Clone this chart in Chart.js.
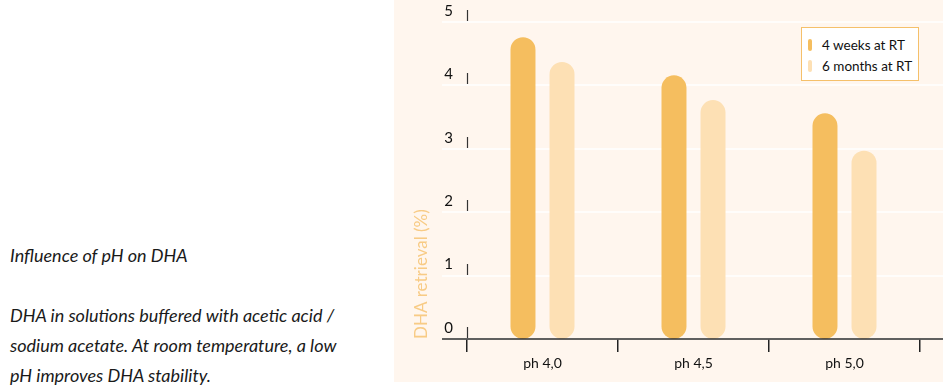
<!DOCTYPE html>
<html>
<head>
<meta charset="utf-8">
<script src="https://cdn.jsdelivr.net/npm/chart.js@4.4.1/dist/chart.umd.min.js"></script>
<style>
  html, body { margin: 0; padding: 0; background: #ffffff; }
  body { width: 949px; height: 388px; position: relative; overflow: hidden; font-family: Lato, sans-serif; }
  .note { position: absolute; left: 10px; font-style: italic; font-size: 18px; color: #1a1a1a; line-height: 30px; }
  #heading { top: 240px; }
  #para { top: 300px; }
  #panel { position: absolute; left: 394px; top: 0; width: 549px; height: 382px; background: #fff6ee; }
  #legend { position: absolute; left: 801px; top: 27px; width: 118px; height: 54px; box-sizing: border-box;
            border: 1px solid #f5c06a; background: #ffffff; padding-top: 6px; }
  .item { height: 21px; display: flex; align-items: center; font-size: 13.5px; color: #111; }
  .mark { width: 4px; height: 12px; border-radius: 2px; margin-left: 6px; margin-right: 10px; }
</style>
</head>
<body>
<div class="note" id="heading">Influence of pH on DHA</div>
<div class="note" id="para">DHA in solutions buffered with acetic acid /<br>sodium acetate. At room temperature, a low<br>pH improves DHA stability.</div>
<div id="panel"><canvas id="myChart" width="549" height="382"></canvas></div>
<div id="legend"></div>
<script>
const categories = ['ph 4,0', 'ph 4,5', 'ph 5,0']
const weeks4 = [4.76, 4.16, 3.56]
const months6 = [4.37, 3.77, 2.97]
const seriesNames = ['4 weeks at RT', '6 months at RT']
const seriesColors = ['#f5be5f', '#fde0b4']
const yTicks = [0, 1, 2, 3, 4, 5]

// grid lines, axis line and the little tick marks of the y axis
const axisExtras = {
  id: 'axisExtras',
  beforeDatasetsDraw(chart) {
    const {ctx, chartArea, scales: {y}} = chart
    ctx.save()
    ctx.strokeStyle = '#ffffff'
    ctx.lineWidth = 1.5
    y.ticks.forEach(t => {
      const py = Math.round(y.getPixelForValue(t.value))
      ctx.beginPath()
      ctx.moveTo(chartArea.left - 25, py)
      ctx.lineTo(chart.width, py)
      ctx.stroke()
    })
    ctx.restore()
  },
  afterDatasetsDraw(chart) {
    const {ctx, chartArea, scales: {y}} = chart
    ctx.save()
    ctx.strokeStyle = '#333'
    ctx.lineWidth = 1.2
    y.ticks.forEach(t => {
      const py = Math.round(y.getPixelForValue(t.value))
      ctx.beginPath()
      ctx.moveTo(chartArea.left + 0.5, py - 12)
      ctx.lineTo(chartArea.left + 0.5, py - 1)
      ctx.stroke()
    })
    ctx.strokeStyle = '#2b2b2b'
    ctx.lineWidth = 1.5
    const base = Math.round(y.getPixelForValue(0))
    ctx.beginPath()
    ctx.moveTo(chartArea.left - 25, base)
    ctx.lineTo(chart.width, base)
    ctx.stroke()
    ctx.restore()
  }
}

const ctx = document.getElementById('myChart')

new Chart(ctx, {
  type: 'bar',
  data: {
    labels: categories,
    datasets: [{
      label: seriesNames[0],
      data: weeks4,
      backgroundColor: seriesColors[0]
    }, {
      label: seriesNames[1],
      data: months6,
      backgroundColor: seriesColors[1]
    }]
  },
  options: {
    responsive: false,
    animation: false,
    categoryPercentage: 0.517,
    barPercentage: 0.64,
    borderRadius: 13,
    borderSkipped: false,
    layout: { padding: { top: 22, right: 23, left: 0, bottom: 0 } },
    plugins: {
      legend: { display: false },
      tooltip: { enabled: false }
    },
    scales: {
      x: {
        afterFit(scale) { scale.height = 43 },
        border: { display: false },
        grid: { drawOnChartArea: false, drawTicks: true, tickLength: 13, color: '#222', lineWidth: 1.5, offset: true },
        ticks: { color: '#111', font: { family: 'Lato', size: 14 }, padding: 3 }
      },
      y: {
        min: 0,
        max: 5,
        afterFit(scale) { scale.width = 73 },
        afterBuildTicks(scale) { scale.ticks = yTicks.map(v => ({ value: v })) },
        border: { display: false },
        grid: { display: false },
        ticks: { color: '#111', font: { family: 'Lato', size: 15 }, padding: 6, labelOffset: -11 },
        title: {
          display: true,
          text: 'DHA retrieval (%)',
          align: 'start',
          color: '#f8cb85',
          font: { family: 'Lato', size: 17 },
          padding: { top: 17, bottom: 0 }
        }
      }
    }
  },
  plugins: [axisExtras]
})

// legend box
const legend = document.getElementById('legend')
seriesNames.forEach((name, i) => {
  const row = document.createElement('div')
  row.className = 'item'
  row.innerHTML = '<span class="mark" style="background:' + seriesColors[i] + '"></span>' + name
  legend.appendChild(row)
})
</script>
</body>
</html>
